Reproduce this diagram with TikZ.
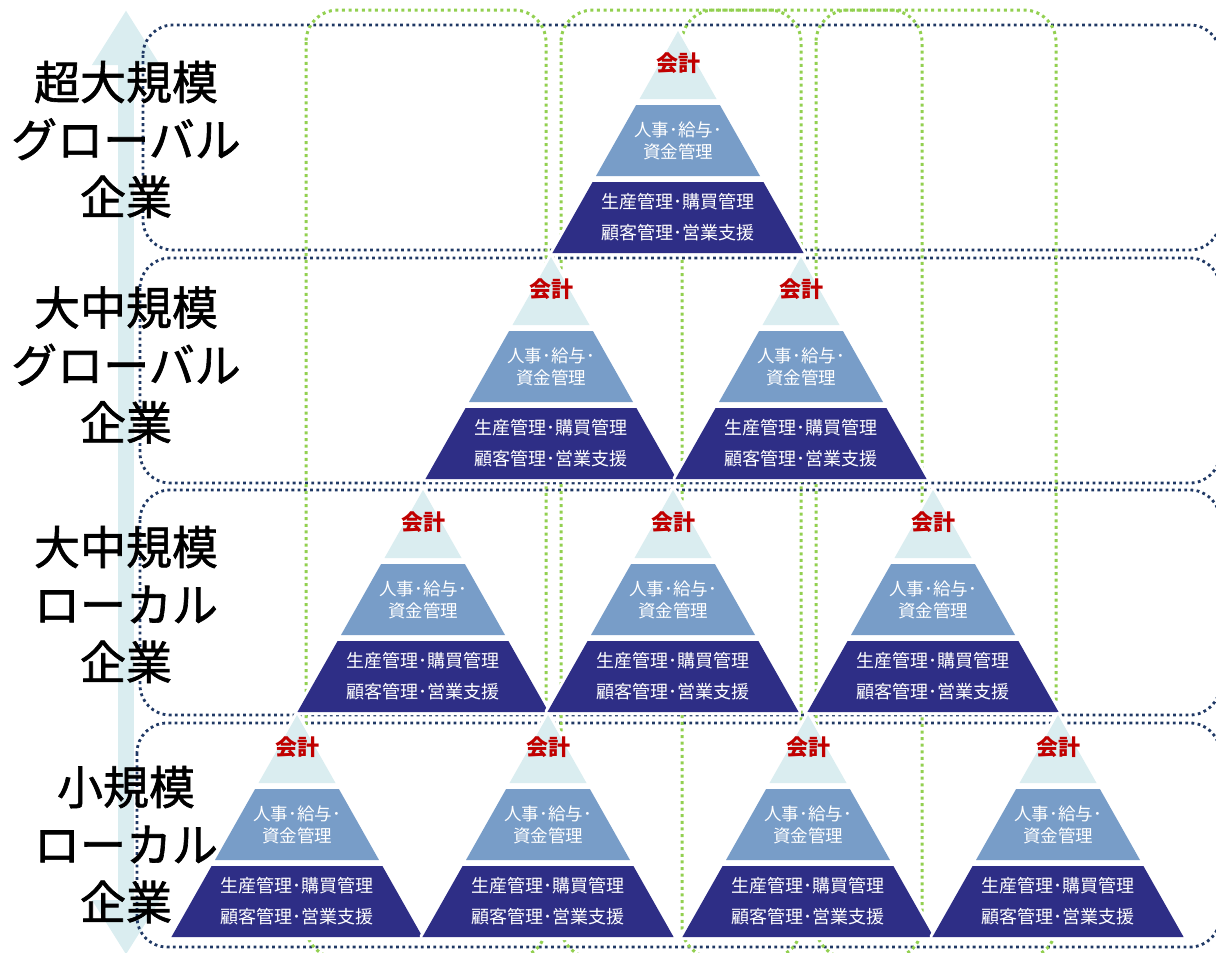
\documentclass[tikz,border=0pt]{standalone}
\usepackage{fontspec}
\usetikzlibrary{arrows.meta}
\newfontfamily\jp{Noto Sans CJK JP}
\newfontfamily\jpheavy[FakeBold = 1.4]{Noto Sans CJK JP}
\definecolor{navyline}{RGB}{31,56,100}
\definecolor{greenline}{RGB}{146,208,80}
\definecolor{paleband}{RGB}{218,237,240}
\definecolor{midband}{RGB}{120,157,200}
\definecolor{deepband}{RGB}{46,46,134}
\definecolor{kaikeired}{RGB}{192,0,0}
\tikzset{
	rowbox/.style = {draw = navyline, line width = 2.8pt, dash pattern = on 2.8pt off 3.4pt, rounded corners = 30pt},
	colbox/.style = {draw = greenline, line width = 3pt, dash pattern = on 3pt off 3.6pt, rounded corners = 32pt},
	kaikei/.style = {font = \jp\bfseries\fontsize{22}{24}\selectfont, text = kaikeired, inner sep = 0pt},
	midtext/.style = {font = \jp\fontsize{17.5}{22}\selectfont, text = white, align = center, inner sep = 0pt},
	lowtext/.style = {font = \jp\fontsize{18}{31}\selectfont, text = white, align = center, inner sep = 0pt},
	sizelabel/.style = {font = \jpheavy\fontsize{46}{57.5}\selectfont, align = center, inner sep = 0pt}
}

\begin{document}
\begin{tikzpicture}[x = 1pt, y = -1pt]
\useasboundingbox (0, 0) rectangle (1216, 953);
\clip (0, 0) rectangle (1216, 953);

\draw[paleband, line width = 16pt, {Triangle[length = 55pt, width = 64pt]}-{Triangle[length = 55pt, width = 64pt]}] (126, 10) -- (126, 955);

\foreach \lx/\top/\bot in {
	143/25/250,
	140/258/483,
	140/490/715,
	137/723/947
	}
\draw[rowbox] (\lx, \top) rectangle (1220, \bot);

\foreach \cx in {306, 561, 682, 816}
\draw[colbox] (\cx, 10) rectangle ++(240, 948);

\foreach \px/\py [count = \i] in {
	678/31,
	551/257, 801/257,
	423/490, 673/490, 933/490,
	297/715, 548/715, 808/715, 1058/715
	} {
\begin{scope}[shift = {(\px, \py)}]
\filldraw[white, line width = 6pt, line join = round] (0, 0) -- (125.6, 222) -- (-125.6, 222) -- cycle;
\fill[paleband] (0, 0) -- (38.5, 68) -- (-38.5, 68) -- cycle;
\fill[midband] (-41.9, 74) -- (41.9, 74) -- (82, 145) -- (-82, 145) -- cycle;
\fill[deepband] (-85.4, 151) -- (85.4, 151) -- (125.6, 222) -- (-125.6, 222) -- cycle;
\node[kaikei] (kaikei-\i) at (0, 32) {会計};
\node[midtext] (jinji-\i) at (0, 110) {人事･給与･\\資金管理};
\node[lowtext] (gyomu-\i) at (0, 186.5) {生産管理･購買管理\\顧客管理･営業支援};
\end{scope}
}

\node[sizelabel] (size-1) at (126, 139.5) {超大規模\\グローバル\\企業};
\node[sizelabel] (size-2) at (126, 365) {大中規模\\グローバル\\企業};
\node[sizelabel] (size-3) at (126, 604.5) {大中規模\\ローカル\\企業};
\node[sizelabel] (size-4) at (126, 844.5) {小規模\\ローカル\\企業};

\end{tikzpicture}
\end{document}
